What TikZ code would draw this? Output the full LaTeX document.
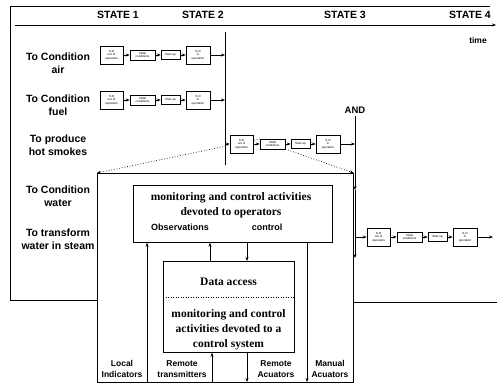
\documentclass[tikz,border=0pt]{standalone}
\usepackage{fontspec}
\setmainfont{Liberation Serif}
\newfontfamily\labfont{Liberation Sans}
\usetikzlibrary{arrows.meta}
\tikzset{
  ln/.style={line width=0.7pt},
  arr/.style={ln,-{Stealth[length=4pt,width=3pt]}},
  lbl/.style={font=\labfont\bfseries\fontsize{10.5}{13}\selectfont, align=center, inner sep=0pt},
  sml/.style={font=\labfont\bfseries\fontsize{8.5}{11}\selectfont, align=center, inner sep=0pt},
  ser/.style={font=\bfseries\fontsize{11.5}{15}\selectfont, align=center, inner sep=0pt},
  sbox/.style={draw, line width=0.5pt, fill=white, inner sep=0pt, align=center,
     font=\labfont\fontsize{3}{3.4}\selectfont},
}
\newcommand\mychain[3]{%
  \node[sbox, minimum width=23pt, minimum height=18pt] (#1a) at ({#2+11.5},{#3}) {S-O\\out of\\operation};
  \node[sbox, minimum width=25pt, minimum height=10pt] (#1b) at ({#2+42.5},{#3}) {Initial\\conditions};
  \node[sbox, minimum width=19pt, minimum height=9pt] (#1c) at ({#2+70.5},{#3}) {Start-up};
  \node[sbox, minimum width=24pt, minimum height=18pt] (#1d) at ({#2+98},{#3}) {S-O\\in\\operation};
  \draw[arr] (#1a) -- (#1b);
  \draw[arr] (#1b) -- (#1c);
  \draw[arr] (#1c) -- (#1d);
}
\begin{document}
\begin{tikzpicture}[x=1pt,y=-1pt]
\useasboundingbox (0,0) rectangle (497,384);
% frame
\draw[ln] (97,300) -- (10,300) -- (10,6) -- (490,6);
\draw[ln] (353,302) -- (497,302);
% time axis
\coordinate (t0) at (15,25);
\coordinate (t1) at (496,25);
\draw[arr] (t0) -- (t1);
\node[lbl] (s1) at (118,15) {STATE 1};
\node[lbl] (s2) at (203,15) {STATE 2};
\node[lbl] (s3) at (345,15) {STATE 3};
\node[lbl] (s4) at (470,15) {STATE 4};
\node[sml] (time) at (478,40) {time};
% row labels
\node[lbl] (r1) at (58,63.5) {To Condition\\air};
\node[lbl] (r2) at (58,105.5) {To Condition\\fuel};
\node[lbl] (r3) at (58,145) {To produce\\hot smokes};
\node[lbl] (r4) at (58,196.5) {To Condition\\water};
\node[lbl] (r5) at (58,239.5) {To transform\\water in steam};
% state 2 line
\coordinate (v2top) at (225,32);
\coordinate (v2bot) at (225,165);
\draw[ln] (v2top) -- (v2bot);
% big box (drawn first so the zoom lines end on it)
\node[draw, ln, anchor=north west, minimum width=256pt, minimum height=209pt, inner sep=0pt] (big) at (97,173) {};
% dotted zoom lines
\coordinate (hbnw) at (260,139);
\coordinate (hbse) at (288,150);
\draw[ln, dotted, -{Stealth[length=4pt,width=3pt]}] (hbnw) -- (big.north west);
\draw[ln, dotted, -{Stealth[length=4pt,width=3pt]}] (hbse) -- (big.north east);
% chains
\mychain{air}{100}{55}
\mychain{fuel}{100}{100}
\mychain{hot}{230}{144}
\mychain{stm}{367}{237}
\draw[arr] (aird) -- (aird -| v2top);
\draw[arr] (fueld) -- (fueld -| v2top);
\draw[arr] (hota -| v2top) -- (hota);
% AND
\node[sml, font=\labfont\bfseries\fontsize{9.5}{11}\selectfont] (and) at (355,110) {AND};
\coordinate (andm) at (355,190);
\coordinate (andb) at (355,258);
\draw[arr] (and.south) ++(0,3) -- (andm);
\draw[arr] (andm) -- (andb);
\draw[arr] (hotd) -- (hotd -| andm);
\draw[arr] (stma -| andm) -- (stma);
\coordinate (stmend) at (493,237);
\draw[arr] (stmd) -- (stmend);
% operators box
\node[draw, ln, anchor=north west, minimum width=199pt, minimum height=57pt, inner sep=0pt] (op) at (133,185) {};
\node[ser] (optxt) at (231,205.5) {monitoring and control activities\\devoted to operators};
\node[sml, font=\labfont\bfseries\fontsize{9}{11}\selectfont] (obs) at (180,227) {Observations};
\node[sml, font=\labfont\bfseries\fontsize{9}{11}\selectfont] (ctl) at (267,227) {control};
% data box
\node[draw, ln, anchor=north west, minimum width=131pt, minimum height=91pt, inner sep=0pt] (data) at (163,261) {};
\draw[line width=0.5pt, dotted] (data.west |- 0,297) -- (data.east |- 0,297);
\node[ser] (dacc) at (228.5,282) {Data access};
\node[ser] (dtxt) at (228.5,330) {monitoring and control\\activities devoted to a\\control system};
% vertical connectors
\coordinate (xl) at (147,382);
\coordinate (xo) at (210,0);
\coordinate (xc) at (247,0);
\coordinate (xt) at (212,382);
\coordinate (xa) at (247,382);
\coordinate (xm) at (307,382);
\draw[arr] (xl) -- (xl |- op.south);
\draw[arr] (xo |- data.north) -- (xo |- op.south);
\draw[arr] (xc |- op.south) -- (xc |- data.north);
\draw[arr] (xt) -- (xt |- data.south);
\draw[arr] (xa |- data.south) -- (xa);
\draw[arr] (xm |- op.south) -- (xm);
% bottom labels
\node[sml] (loc) at (122,369) {Local\\Indicators};
\node[sml] (rtr) at (182,369) {Remote\\transmitters};
\node[sml] (rac) at (276,369) {Remote\\Acuators};
\node[sml] (man) at (330,369) {Manual\\Acuators};
\end{tikzpicture}
\end{document}
